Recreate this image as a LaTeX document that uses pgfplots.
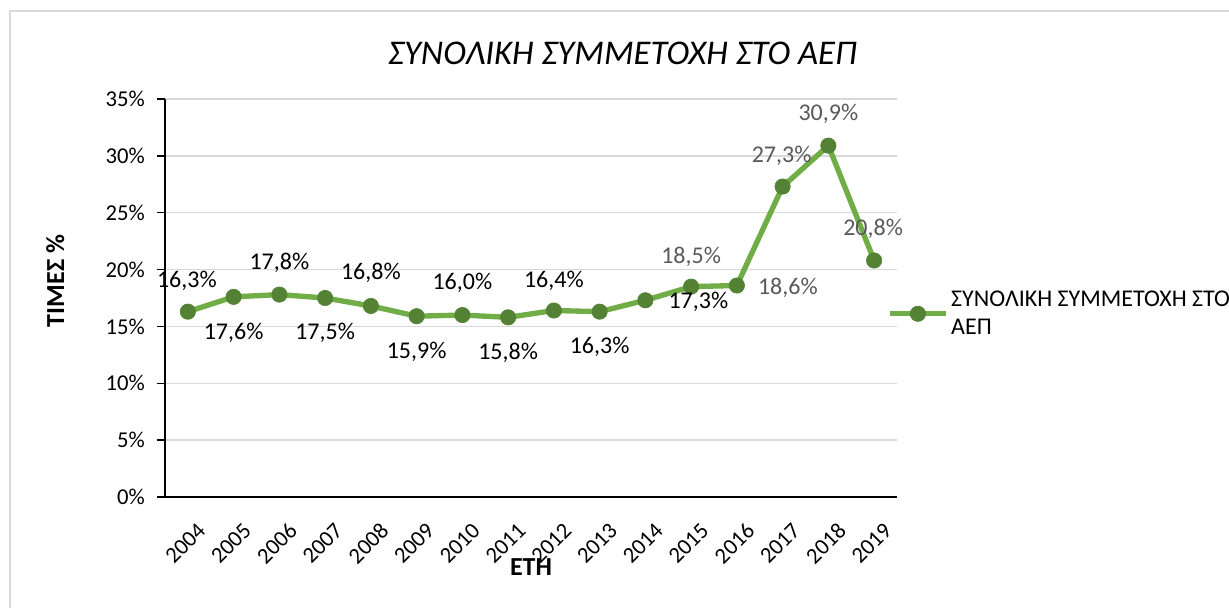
\documentclass[border=0pt]{standalone}
\usepackage{fontspec}
\setmainfont{Carlito}
\usepackage{pgfplots}
\usepackage{pgfplotstable}
\pgfplotsset{compat=1.18}
\definecolor{linegreen}{HTML}{70AD47}
\definecolor{markgreen}{HTML}{548235}
\definecolor{gridgray}{HTML}{D9D9D9}
\definecolor{labgray}{HTML}{595959}
\definecolor{framegray}{HTML}{D9D9D9}

\pgfplotstableread{
x y dx dy c
0 16.3 -1 31 0
1 17.6 0 -36 0
2 17.8 0 32 0
3 17.5 0 -35 0
4 16.8 0 33 0
5 15.9 0 -36 0
6 16.0 0 32 0
7 15.8 0 -36 0
8 16.4 0 30 0
9 16.3 0 -35 0
10 17.3 53 -2 0
11 18.5 0 30 1
12 18.6 51 -2 1
13 27.3 -1 31 1
14 30.9 0 32 1
15 20.8 -1 32 1
}\data

\pgfplotsset{
  lab/.style={draw=none, mark=none, forget plot,
    visualization depends on=\thisrow{dx} \as \dx,
    visualization depends on=\thisrow{dy} \as \dy,
    nodes near coords={\pgfmathprintnumber[fixed,fixed zerofill,precision=1,use comma]{\pgfplotspointmeta}\%},
    every node near coord/.append style={anchor=center, xshift=\dx*0.75pt, yshift=\dy*0.75pt,
      text=#1, font=\fontsize{18}{20}\selectfont}},
}

\begin{document}
\begin{tikzpicture}[x=0.75pt,y=0.75pt]
\path[use as bounding box] (0,0) rectangle (1229,608);
\draw[framegray, line width=1pt] (10,0) -- (10,597) -- (1229,597);
\begin{axis}[
  at={(123.75pt,83.25pt)}, anchor=south west,
  scale only axis, width=549pt, height=298.5pt,
  xmin=-0.5, xmax=15.5, ymin=0, ymax=35,
  clip=false,
  /pgf/number format/assume math mode=true,
  xtick={0,...,15},
  xticklabels={2004,2005,2006,2007,2008,2009,2010,2011,2012,2013,2014,2015,2016,2017,2018,2019},
  ytick={0,5,...,35},
  yticklabel={\pgfmathprintnumber{\tick}\%},
  axis x line*=bottom, axis y line*=left,
  axis line style={black, line width=1.1pt, -},
  x axis line style={line width=1.6pt},
  tick align=outside, major tick length=6pt,
  xtick style={draw=none},
  ytick style={draw=black, line width=1.1pt},
  ymajorgrids, grid style={draw=gridgray, line width=1.1pt},
  tick label style={font=\fontsize{17}{20}\selectfont, text=black},
  yticklabel style={xshift=-5.6pt},
  xticklabel style={rotate=45, anchor=east, yshift=-19pt, xshift=-1pt},
  xlabel={ΕΤΗ}, ylabel={ΤΙΜΕΣ \%},
  label style={font=\fontsize{19.5}{22}\selectfont\bfseries},
  xlabel style={at={(axis description cs:0.5,-0.176)}, anchor=center},
  ylabel style={at={(axis description cs:-0.150,0.543)}, anchor=center},
  title={ΣΥΝΟΛΙΚΗ ΣΥΜΜΕΤΟΧΗ ΣΤΟ ΑΕΠ},
  title style={at={(axis description cs:0.625,1.094)}, anchor=center, font=\fontsize{26}{30}\selectfont\itshape},
  legend style={at={(axis description cs:0.9863,0.525)}, anchor=north west, draw=none, fill=none, inner sep=0pt,
    font=\fontsize{18}{21}\selectfont, cells={align=left}},
  legend cell align=left,
  legend image code/.code={\draw[mark repeat=2,mark phase=2,#1] plot coordinates {(0pt,0pt) (21pt,0pt) (42pt,0pt)};},
]
\addplot[color=linegreen, line width=4pt, line join=round,
  mark=*, mark size=5.75pt, mark options={fill=markgreen, draw=markgreen, line width=0.5pt},
] table[x=x,y=y]{\data};
\addlegendentry{ΣΥΝΟΛΙΚΗ ΣΥΜΜΕΤΟΧΗ ΣΤΟ\\ΑΕΠ}
\addplot[lab=black, restrict expr to domain={\thisrow{c}}{0:0}] table[x=x,y=y]{\data};
\addplot[lab=labgray, restrict expr to domain={\thisrow{c}}{1:1}] table[x=x,y=y]{\data};
\end{axis}
\end{tikzpicture}
\end{document}
